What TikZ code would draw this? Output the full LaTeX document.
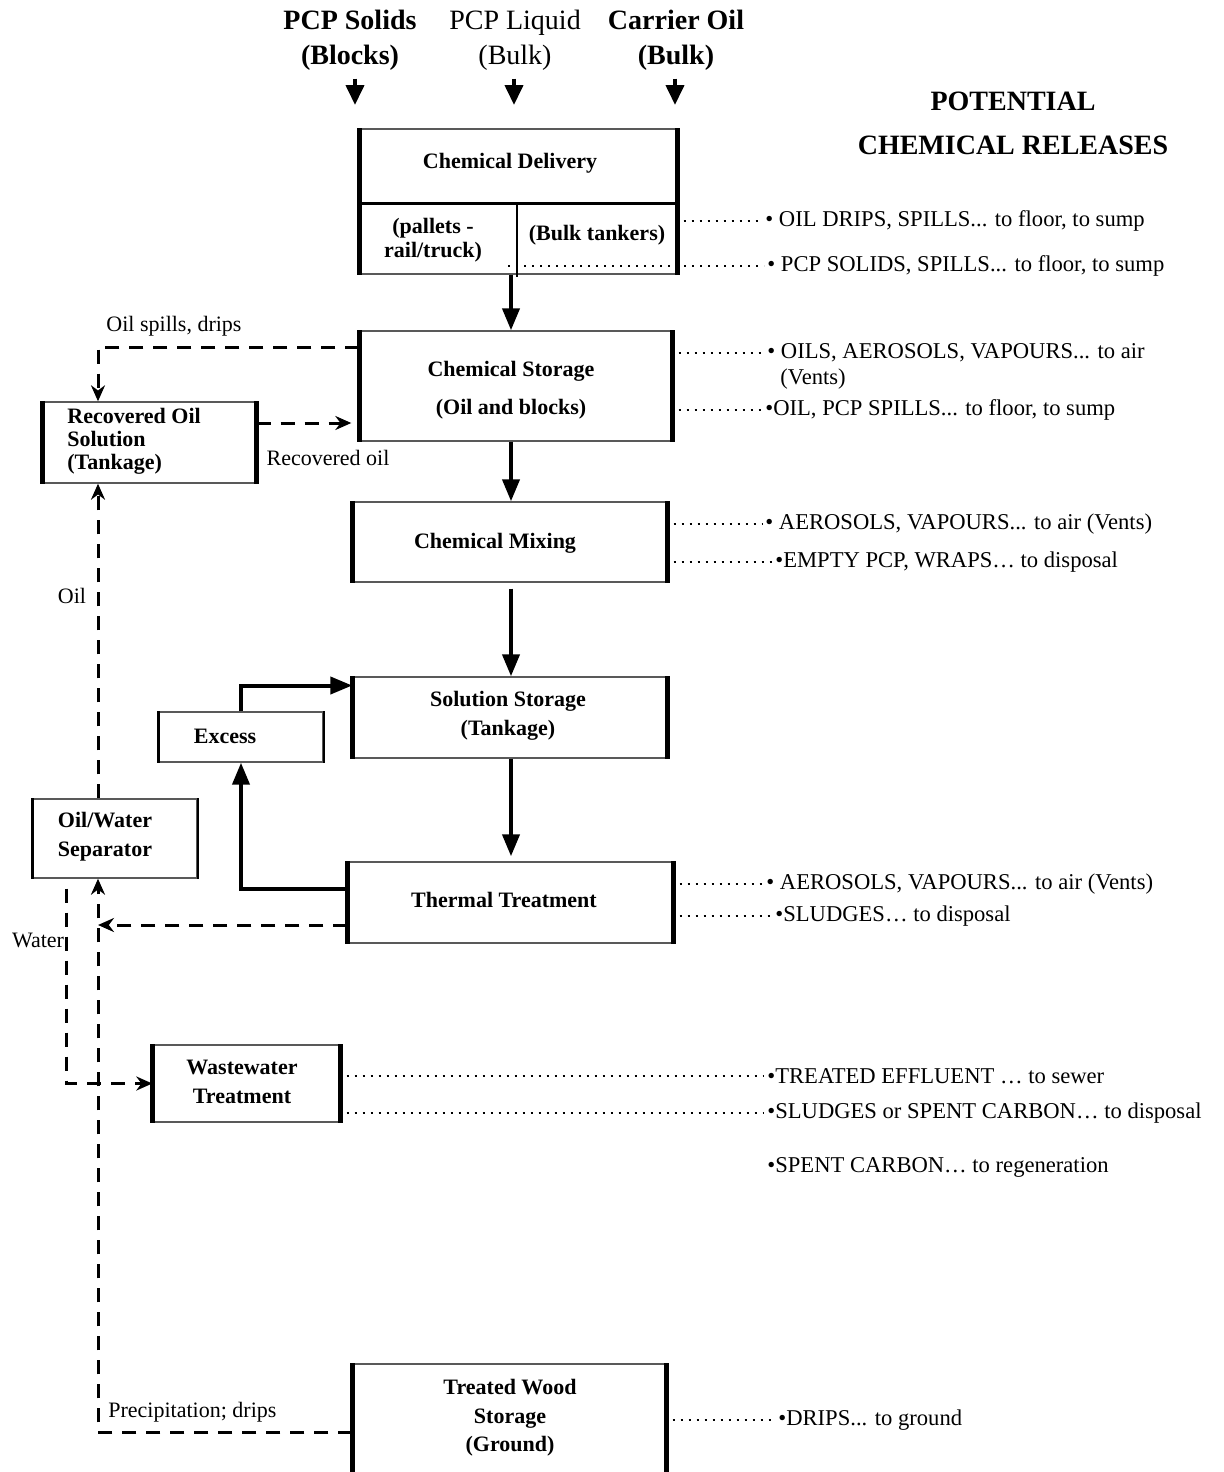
\documentclass[tikz,border=0pt]{standalone}
\usepackage{fontspec}
\setmainfont{Liberation Serif}
\usetikzlibrary{arrows.meta}

\begin{document}
\begin{tikzpicture}[x=0.5pt,y=-0.5pt]

  \tikzstyle{box} = [draw=black!65, line width=0.7pt, inner sep=0pt];
  \tikzstyle{sidebar} = [line width=2.5pt];
  \tikzstyle{thinbar} = [line width=1.2pt];
  \tikzstyle{flow} = [line width=2pt, -{Triangle[length=11pt,width=8.5pt]}];
  \tikzstyle{inflow} = [line width=2pt, shorten <=4pt, -{Triangle[length=10pt,width=9pt]}];
  \tikzstyle{ret} = [line width=1.5pt, dash pattern=on 7pt off 5pt, -{Stealth[length=8pt,width=7pt]}];
  \tikzstyle{release} = [line width=0.9pt, dash pattern=on 0.9pt off 3.1pt, shorten <=3pt, shorten >=1.5pt];
  \tikzstyle{boxtext} = [font=\bfseries\fontsize{11}{14.5}\selectfont, align=center, inner sep=0pt];
  \tikzstyle{head} = [font=\fontsize{14}{17.5}\selectfont, align=center, inner sep=0pt];
  \tikzstyle{reltext} = [font=\fontsize{11.3}{13}\selectfont, anchor=west, inner sep=0pt];
  \tikzstyle{note} = [font=\fontsize{11}{13}\selectfont, inner sep=0pt];

  \path[use as bounding box, clip] (0,0) rectangle (1224,1472);

  % inputs
  \node[head, font=\bfseries\fontsize{14}{17.5}\selectfont] (solids) at (350,40) {PCP Solids\\(Blocks)};
  \node[head] (liquid) at (515,40) {PCP Liquid\\(Bulk)};
  \node[head, font=\bfseries\fontsize{14}{17.5}\selectfont] (carrier) at (676,40) {Carrier Oil\\(Bulk)};
  \node[head, font=\bfseries\fontsize{14}{22}\selectfont] (title) at (1013,123) {POTENTIAL\\CHEMICAL RELEASES};

  \coordinate (inA) at (355,105);
  \coordinate (inB) at (514,105);
  \coordinate (inC) at (675,105);
  \draw[inflow] (solids.south -| inA) -- (inA);
  \draw[inflow] (liquid.south -| inB) -- (inB);
  \draw[inflow] (carrier.south -| inC) -- (inC);

  % boxes
  \node[box, minimum width=158.5pt, minimum height=72.5pt] (del) at (518.5,201.5) {};
  \node[box, minimum width=156pt, minimum height=55pt] (sto) at (516,386) {};
  \node[box, minimum width=106.5pt, minimum height=40.5pt] (rec) at (149.5,442.5) {};
  \node[box, minimum width=157pt, minimum height=40pt] (mix) at (510,542) {};
  \node[box, minimum width=157pt, minimum height=40.5pt] (sol) at (510,717.5) {};
  \node[box, minimum width=82pt, minimum height=25pt] (exc) at (241,737) {};
  \node[box, minimum width=162.5pt, minimum height=40.5pt] (thr) at (510.5,902.5) {};
  \node[box, minimum width=82pt, minimum height=39.5pt] (sep) at (115,838.5) {};
  \node[box, minimum width=93.5pt, minimum height=38.5pt] (ww) at (246.5,1083.5) {};
  \node[box, minimum width=156.5pt, minimum height=58pt] (wood) at (509.5,1422) {};

  \foreach \b in {del,sto,rec,mix,sol,thr,ww,wood}
    \draw[sidebar] (\b.north west) -- (\b.south west) (\b.north east) -- (\b.south east);
  \foreach \b in {exc,sep}
    \draw[thinbar] (\b.north west) -- (\b.south west) (\b.north east) -- (\b.south east);

  \draw[line width=1.5pt] (360,203) -- (677,203);
  \draw[line width=1.3pt] (517,203) -- (517,277);

  % box texts
  \node[boxtext] (delT) at (510,163) {Chemical Delivery};
  \node[boxtext, font=\bfseries\fontsize{11}{12}\selectfont] (delA) at (433,240) {(pallets -\\rail/truck)};
  \node[boxtext] (delB) at (597,235) {(Bulk tankers)};
  \node[boxtext, font=\bfseries\fontsize{11}{19}\selectfont] (stoT) at (511,390) {Chemical Storage\\(Oil and blocks)};
  \node[boxtext, font=\bfseries\fontsize{11}{11.5}\selectfont, align=left, anchor=west] (recT) at (67,441) {Recovered Oil\\Solution\\(Tankage)};
  \node[boxtext] (mixT) at (495,543) {Chemical Mixing};
  \node[boxtext] (solT) at (508,716) {Solution Storage\\(Tankage)};
  \node[boxtext] (excT) at (225,736) {Excess};
  \node[boxtext] (thrT) at (504,900) {Thermal Treatment};
  \node[boxtext] (sepT) at (105,837) {Oil/Water\\Separator};
  \node[boxtext] (wwT) at (242,1082) {Wastewater\\Treatment};
  \node[boxtext, font=\bfseries\fontsize{11}{14.25}\selectfont] (woodT) at (510,1418) {Treated Wood\\Storage\\(Ground)};

  % main flow
  \coordinate (spine) at (511,0);
  \draw[flow] (del.south -| spine) -- (sto.north -| spine);
  \draw[flow] (sto.south -| spine) -- (mix.north -| spine);
  \draw[flow, shorten <=3pt] (mix.south -| spine) -- (sol.north -| spine);
  \draw[flow, shorten >=2.5pt] (sol.south -| spine) -- (thr.north -| spine);

  % excess loop
  \coordinate (thrU) at ([yshift=7pt]thr.west);
  \coordinate (solU) at ([yshift=16pt]sol.west);
  \draw[flow] (thrU) -| (exc.south);
  \draw[flow] (exc.north) |- (solU);

  % recovered oil and water
  \coordinate (bus) at (98,0);
  \coordinate (wbus) at (66,0);
  \coordinate (stoU) at ([yshift=19.5pt]sto.west);
  \coordinate (recR) at ([yshift=9.75pt]rec.east);
  \coordinate (thrD) at ([yshift=-11.25pt]thr.west);
  \coordinate (woodL) at ([yshift=-5pt]wood.west);
  \draw[ret] (stoU) -| (rec.north -| bus);
  \draw[ret, shorten >=4pt] (recR) -- (recR -| sto.west);
  \draw[ret] (sep.north -| bus) -- (rec.south -| bus);
  \draw[ret] (woodL) -| (sep.south -| bus);
  \draw[ret] (thrD) -- (thrD -| bus);
  \draw[ret, shorten <=5pt] (sep.south -| wbus) |- (ww.west);

  \node[note] (lblSpill) at (174,326) {Oil spills, drips};
  \node[note] (lblRec) at (328,458) {Recovered oil};
  \node[note] (lblOil) at (72,596) {Oil};
  \node[note] (lblWater) at (38,940) {Water};
  \node[note, anchor=west] (lblPrec) at (108,1412) {Precipitation; drips};

  % potential releases
  \node[reltext] (r1) at (765,221) {• OIL DRIPS, SPILLS... to floor, to sump};
  \node[reltext] (r2) at (767,266) {•  PCP SOLIDS, SPILLS... to floor, to sump};
  \node[reltext] (r3) at (767,353) {• OILS, AEROSOLS, VAPOURS... to air};
  \node[reltext] (r3b) at (780,379) {(Vents)};
  \node[reltext] (r4) at (765,410) {•OIL, PCP SPILLS...  to floor, to sump};
  \node[reltext] (r5) at (765,524) {• AEROSOLS, VAPOURS... to air (Vents)};
  \node[reltext] (r6) at (775,562) {•EMPTY PCP, WRAPS… to disposal};
  \node[reltext] (r7) at (766,884) {• AEROSOLS, VAPOURS... to air (Vents)};
  \node[reltext] (r8) at (775,916) {•SLUDGES… to disposal};
  \node[reltext] (r9) at (767,1076) {•TREATED EFFLUENT … to sewer};
  \node[reltext] (r10) at (767,1113) {•SLUDGES or SPENT CARBON… to disposal};
  \node[reltext] (r11) at (767,1167) {•SPENT CARBON… to regeneration};
  \node[reltext] (r12) at (778,1420) {•DRIPS... to ground};

  \draw[release, shorten <=0pt] ([xshift=-5.25pt]del.south |- r2.west) -- (r2.west);
  \foreach \b/\r in {del/r1, sto/r3, sto/r4, mix/r5, mix/r6, thr/r7, thr/r8, ww/r9, ww/r10, wood/r12}
    \draw[release] (\b.east |- \r.west) -- (\r.west);

\end{tikzpicture}
\end{document}
